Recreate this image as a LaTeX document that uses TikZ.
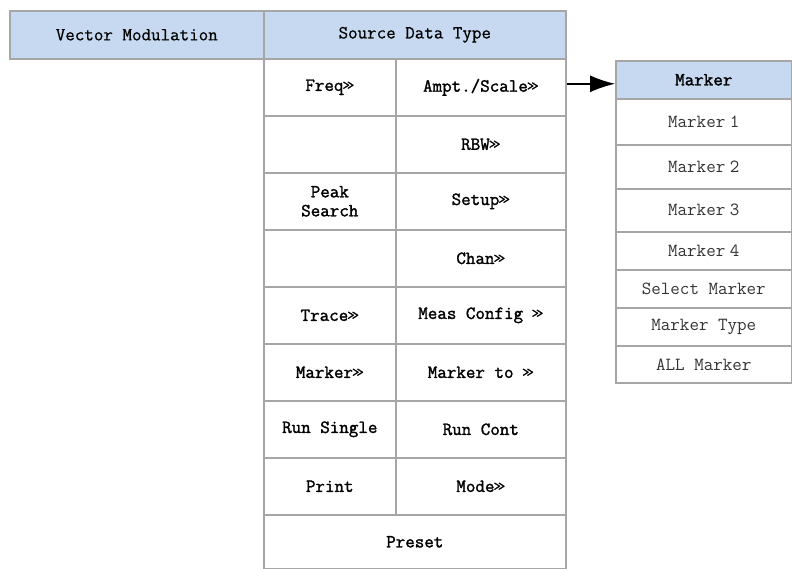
\documentclass[tikz,border=0pt]{standalone}
\usepackage{fontspec}
\newfontfamily\cellfont{Latin Modern Mono}
\newfontfamily\cellbold[FakeBold=1.6]{Latin Modern Mono}
\newfontfamily\cellmid[FakeBold=0.6]{Latin Modern Mono}
\newcommand{\dgt}{\mbox{\kern-0.05em\fontsize{14}{14}\selectfont\raisebox{0.1em}{>\kern-0.2em>}}}
\usetikzlibrary{arrows.meta}
\definecolor{hdrblue}{RGB}{198,217,240}
\definecolor{bordergray}{RGB}{166,166,166}
\tikzset{
  cell/.style={draw=bordergray, line width=1.6pt, rectangle, inner sep=0pt, anchor=north west,
    font=\cellfont\fontsize{18.5}{19}\selectfont, align=center, text=black},
  bcell/.style={cell, font=\cellbold\fontsize{18.5}{19}\selectfont},
  hdr/.style={cell, fill=hdrblue, font=\cellmid\fontsize{18.5}{19}\selectfont},
  mcell/.style={cell, text=black!80},
  arr/.style={draw=black, line width=1.4pt, -{Latex[length=25pt,width=17pt]}}
}
\begin{document}
\begin{tikzpicture}[x=1pt,y=-1pt]
\useasboundingbox (0,0) rectangle (792,568);
% top headers
\node[hdr, minimum width=254pt, minimum height=48pt] (vm) at (9,10) {Vector Modulation};
\node[hdr, minimum width=302pt, minimum height=48pt] (sdt) at (263,10) {Source Data Type};
% grid
\node[bcell, minimum width=132pt, minimum height=57pt] (freq) at (263,58) {Freq\dgt};
\node[bcell, minimum width=170pt, minimum height=57pt] (ampt) at (395,58) {Ampt./Scale\dgt};
\node[bcell, minimum width=132pt, minimum height=57pt] (e1) at (263,115) {};
\node[bcell, minimum width=170pt, minimum height=57pt] (rbw) at (395,115) {RBW\dgt};
\node[bcell, minimum width=132pt, minimum height=57pt] (peak) at (263,172) {Peak\\Search};
\node[bcell, minimum width=170pt, minimum height=57pt] (setup) at (395,172) {Setup\dgt};
\node[bcell, minimum width=132pt, minimum height=57pt] (e2) at (263,229) {};
\node[bcell, minimum width=170pt, minimum height=57pt] (chan) at (395,229) {Chan\dgt};
\node[bcell, minimum width=132pt, minimum height=57pt] (trace) at (263,286) {Trace\dgt};
\node[bcell, minimum width=170pt, minimum height=57pt] (meas) at (395,286) {Meas Config \dgt};
\node[bcell, minimum width=132pt, minimum height=57pt] (mkr) at (263,343) {Marker\dgt};
\node[bcell, minimum width=170pt, minimum height=57pt] (mkrto) at (395,343) {Marker to \dgt};
\node[bcell, minimum width=132pt, minimum height=57pt] (rsing) at (263,400) {Run Single};
\node[bcell, minimum width=170pt, minimum height=57pt] (rcont) at (395,400) {Run Cont};
\node[bcell, minimum width=132pt, minimum height=57pt] (print) at (263,457) {Print};
\node[bcell, minimum width=170pt, minimum height=57pt] (mode) at (395,457) {Mode\dgt};
\node[bcell, minimum width=302pt, minimum height=54pt] (preset) at (263,514) {Preset};
% marker panel
\node[hdr, font=\cellbold\fontsize{18.5}{19}\selectfont, minimum width=176pt, minimum height=38pt] (mk0) at (615,60) {Marker};
\node[mcell, minimum width=176pt, minimum height=46pt] (mk1) at (615,98) {Marker\hspace{0.25em}1};
\node[mcell, minimum width=176pt, minimum height=44pt] (mk2) at (615,144) {Marker\hspace{0.25em}2};
\node[mcell, minimum width=176pt, minimum height=43pt] (mk3) at (615,188) {Marker\hspace{0.25em}3};
\node[mcell, minimum width=176pt, minimum height=38pt] (mk4) at (615,231) {Marker\hspace{0.25em}4};
\node[mcell, minimum width=176pt, minimum height=38pt] (mk5) at (615,269) {Select Marker};
\node[mcell, minimum width=176pt, minimum height=38pt] (mk6) at (615,307) {Marker Type};
\node[mcell, minimum width=176pt, minimum height=37pt] (mk7) at (615,345) {ALL Marker};
% arrow
\draw[arr] ([yshift=3.5pt]ampt.east) coordinate (a1) -- (a1 -| mk0.west);
\end{tikzpicture}
\end{document}
